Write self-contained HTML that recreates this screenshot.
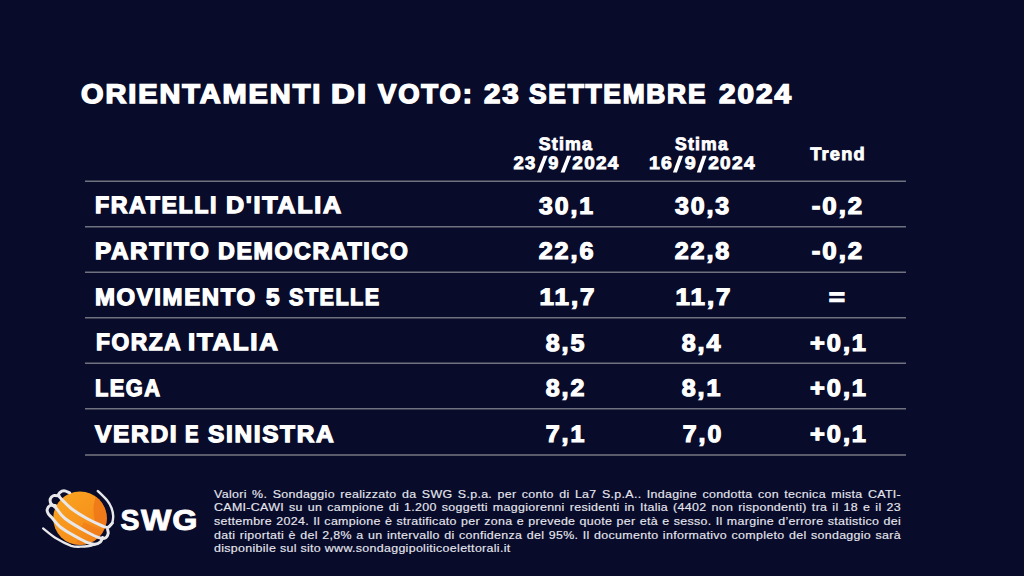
<!DOCTYPE html>
<html><head><meta charset="utf-8">
<style>
html,body{margin:0;padding:0;}
body{width:1024px;height:576px;background:#080b2a;position:relative;overflow:hidden;font-family:"Liberation Sans",sans-serif;color:#fff;}
.t{position:absolute;white-space:nowrap;line-height:1;font-weight:bold;transform-origin:0 0;text-rendering:geometricPrecision;}
.c{position:absolute;white-space:nowrap;line-height:1;font-weight:bold;text-align:center;width:300px;transform-origin:50% 0;text-rendering:geometricPrecision;}
.ln{position:absolute;left:85px;width:821px;height:2px;background:#64667a;}
.fl{position:absolute;left:214px;white-space:nowrap;font-size:11.5px;line-height:13.67px;letter-spacing:0.29px;transform-origin:0 0;transform:scaleX(1.08);color:#e6e6ee;-webkit-text-stroke:0.15px #e6e6ee;}
</style></head><body>
<div class="t" style="font-size:26.9px;-webkit-text-stroke:1.5px #fff;top:80.70px;letter-spacing:1.8px;left:80.51px;transform:scaleX(1.0756);">ORIENTAMENTI</div>
<div class="t" style="font-size:26.9px;-webkit-text-stroke:1.5px #fff;top:80.70px;letter-spacing:1.8px;left:331.23px;transform:scaleX(1.2202);">DI</div>
<div class="t" style="font-size:26.9px;-webkit-text-stroke:1.5px #fff;top:80.70px;letter-spacing:1.8px;left:378.09px;transform:scaleX(1.0208);">VOTO:</div>
<div class="t" style="font-size:26.9px;-webkit-text-stroke:1.5px #fff;top:80.70px;letter-spacing:1.8px;left:483.52px;transform:scaleX(1.0951);">23</div>
<div class="t" style="font-size:26.9px;-webkit-text-stroke:1.5px #fff;top:80.70px;letter-spacing:1.8px;left:529.29px;transform:scaleX(0.9790);">SETTEMBRE</div>
<div class="t" style="font-size:26.9px;-webkit-text-stroke:1.5px #fff;top:80.70px;letter-spacing:1.8px;left:719.38px;transform:scaleX(1.1048);">2024</div>
<div class="t" style="font-size:23.6px;-webkit-text-stroke:1.3px #fff;top:195.03px;letter-spacing:1.6px;left:94.80px;transform:scaleX(0.9833);">FRATELLI</div>
<div class="t" style="font-size:23.6px;-webkit-text-stroke:1.3px #fff;top:195.03px;letter-spacing:1.6px;left:226.11px;transform:scaleX(1.0640);">D'ITALIA</div>
<div class="t" style="font-size:23.6px;-webkit-text-stroke:1.3px #fff;top:240.99px;letter-spacing:1.6px;left:95.16px;transform:scaleX(1.0262);">PARTITO</div>
<div class="t" style="font-size:23.6px;-webkit-text-stroke:1.3px #fff;top:240.99px;letter-spacing:1.6px;left:218.28px;transform:scaleX(0.9863);">DEMOCRATICO</div>
<div class="t" style="font-size:23.6px;-webkit-text-stroke:1.3px #fff;top:286.53px;letter-spacing:1.6px;left:94.71px;transform:scaleX(1.0139);">MOVIMENTO</div>
<div class="t" style="font-size:23.6px;-webkit-text-stroke:1.3px #fff;top:286.53px;letter-spacing:1.6px;left:265.54px;transform:scaleX(1.0322);">5</div>
<div class="t" style="font-size:23.6px;-webkit-text-stroke:1.3px #fff;top:286.53px;letter-spacing:1.6px;left:288.50px;transform:scaleX(0.9162);">STELLE</div>
<div class="t" style="font-size:23.6px;-webkit-text-stroke:1.3px #fff;top:332.19px;letter-spacing:1.6px;left:95.60px;transform:scaleX(0.9648);">FORZA</div>
<div class="t" style="font-size:23.6px;-webkit-text-stroke:1.3px #fff;top:332.19px;letter-spacing:1.6px;left:187.77px;transform:scaleX(1.0927);">ITALIA</div>
<div class="t" style="font-size:23.6px;-webkit-text-stroke:1.3px #fff;top:378.14px;letter-spacing:1.6px;left:94.75px;transform:scaleX(0.9228);">LEGA</div>
<div class="t" style="font-size:23.6px;-webkit-text-stroke:1.3px #fff;top:424.38px;letter-spacing:1.6px;left:94.89px;transform:scaleX(1.0392);">VERDI</div>
<div class="t" style="font-size:23.6px;-webkit-text-stroke:1.3px #fff;top:424.38px;letter-spacing:1.6px;left:185.31px;transform:scaleX(0.8612);">E</div>
<div class="t" style="font-size:23.6px;-webkit-text-stroke:1.3px #fff;top:424.38px;letter-spacing:1.6px;left:208.43px;transform:scaleX(1.0353);">SINISTRA</div>
<div class="c" style="font-size:23.7px;-webkit-text-stroke:1.2px #fff;top:195.79px;letter-spacing:1.8px;left:416.89px;transform:scaleX(1.0472);">30,1</div>
<div class="c" style="font-size:23.7px;-webkit-text-stroke:1.2px #fff;top:195.79px;letter-spacing:1.8px;left:553.15px;transform:scaleX(1.0525);">30,3</div>
<div class="c" style="font-size:23.7px;-webkit-text-stroke:1.2px #fff;top:195.79px;letter-spacing:1.8px;left:688.43px;transform:scaleX(1.0912);">-0,2</div>
<div class="c" style="font-size:23.7px;-webkit-text-stroke:1.2px #fff;top:241.46px;letter-spacing:1.8px;left:417.02px;transform:scaleX(1.0640);">22,6</div>
<div class="c" style="font-size:23.7px;-webkit-text-stroke:1.2px #fff;top:241.46px;letter-spacing:1.8px;left:553.06px;transform:scaleX(1.0601);">22,8</div>
<div class="c" style="font-size:23.7px;-webkit-text-stroke:1.2px #fff;top:241.46px;letter-spacing:1.8px;left:688.43px;transform:scaleX(1.0912);">-0,2</div>
<div class="c" style="font-size:23.7px;-webkit-text-stroke:1.2px #fff;top:286.56px;letter-spacing:1.8px;left:417.54px;transform:scaleX(1.0940);">11,7</div>
<div class="c" style="font-size:23.7px;-webkit-text-stroke:1.2px #fff;top:286.56px;letter-spacing:1.8px;left:553.54px;transform:scaleX(1.0940);">11,7</div>
<div class="c" style="font-size:23.7px;-webkit-text-stroke:1.2px #fff;top:286.56px;letter-spacing:1.8px;left:688.21px;transform:scaleX(1.1734);">=</div>
<div class="c" style="font-size:23.7px;-webkit-text-stroke:1.2px #fff;top:333.10px;letter-spacing:1.8px;left:416.18px;transform:scaleX(1.0570);">8,5</div>
<div class="c" style="font-size:23.7px;-webkit-text-stroke:1.2px #fff;top:333.10px;letter-spacing:1.8px;left:552.48px;transform:scaleX(1.0570);">8,4</div>
<div class="c" style="font-size:23.7px;-webkit-text-stroke:1.2px #fff;top:333.10px;letter-spacing:1.8px;left:688.78px;transform:scaleX(1.0713);">+0,1</div>
<div class="c" style="font-size:23.7px;-webkit-text-stroke:1.2px #fff;top:378.38px;letter-spacing:1.8px;left:416.18px;transform:scaleX(1.0570);">8,2</div>
<div class="c" style="font-size:23.7px;-webkit-text-stroke:1.2px #fff;top:378.38px;letter-spacing:1.8px;left:552.48px;transform:scaleX(1.0570);">8,1</div>
<div class="c" style="font-size:23.7px;-webkit-text-stroke:1.2px #fff;top:378.38px;letter-spacing:1.8px;left:688.78px;transform:scaleX(1.0713);">+0,1</div>
<div class="c" style="font-size:23.7px;-webkit-text-stroke:1.2px #fff;top:424.38px;letter-spacing:1.8px;left:416.18px;transform:scaleX(1.0570);">7,1</div>
<div class="c" style="font-size:23.7px;-webkit-text-stroke:1.2px #fff;top:424.38px;letter-spacing:1.8px;left:553.44px;transform:scaleX(1.0508);">7,0</div>
<div class="c" style="font-size:23.7px;-webkit-text-stroke:1.2px #fff;top:424.38px;letter-spacing:1.8px;left:688.78px;transform:scaleX(1.0713);">+0,1</div>
<div class="c" style="font-size:18.0px;-webkit-text-stroke:0.85px #fff;top:135.31px;letter-spacing:1.2px;left:415.60px;transform:scaleX(0.9884);">Stima</div>
<div class="c" style="font-size:18.0px;-webkit-text-stroke:0.85px #fff;top:135.31px;letter-spacing:1.2px;left:551.77px;transform:scaleX(0.9772);">Stima</div>
<div class="c" style="font-size:18.0px;-webkit-text-stroke:0.85px #fff;top:144.83px;letter-spacing:1.2px;left:687.58px;transform:scaleX(1.0126);">Trend</div>
<div class="c" style="font-size:18.0px;-webkit-text-stroke:0.85px #fff;top:154.12px;letter-spacing:1.2px;left:375.05px;transform:scaleX(1.0286);">23</div>
<div class="c" style="font-size:18.0px;-webkit-text-stroke:0.85px #fff;top:154.12px;letter-spacing:1.2px;left:404.26px;transform:scaleX(1.0063);">9</div>
<div class="c" style="font-size:18.0px;-webkit-text-stroke:0.85px #fff;top:154.12px;letter-spacing:1.2px;left:446.21px;transform:scaleX(1.0548);">2024</div>
<div class="c" style="font-size:18.0px;-webkit-text-stroke:0.85px #fff;top:154.12px;letter-spacing:1.2px;left:510.92px;transform:scaleX(1.0775);">16</div>
<div class="c" style="font-size:18.0px;-webkit-text-stroke:0.85px #fff;top:154.12px;letter-spacing:1.2px;left:540.66px;transform:scaleX(1.0939);">9</div>
<div class="c" style="font-size:18.0px;-webkit-text-stroke:0.85px #fff;top:154.12px;letter-spacing:1.2px;left:582.12px;transform:scaleX(1.0599);">2024</div>
<div class="ln" style="top:180px;background:linear-gradient(#3c3e52 50%,#707282 50%)"></div>
<div class="ln" style="top:226px;background:linear-gradient(#707282 50%,#3c3e52 50%)"></div>
<div class="ln" style="top:271px;background:linear-gradient(#3c3e52 50%,#707282 50%)"></div>
<div class="ln" style="top:317px;background:linear-gradient(#707282 50%,#3c3e52 50%)"></div>
<div class="ln" style="top:362px;background:linear-gradient(#3c3e52 50%,#707282 50%)"></div>
<div class="ln" style="top:408px;background:linear-gradient(#707282 50%,#3c3e52 50%)"></div>
<div class="ln" style="top:454px;background:linear-gradient(#5a5c6c 50%,#5a5c6c 50%)"></div>
<svg style="position:absolute;left:0;top:0" width="1024" height="200" viewBox="0 0 1024 200">
<g fill="#fff">
<polygon points="537.0,172.4 541.0,172.4 547.6,155.8 543.6,155.8"/>
<polygon points="560.6,172.4 564.6,172.4 571.2,155.8 567.2,155.8"/>
<polygon points="672.9,172.4 676.9,172.4 683.0,155.8 679.0,155.8"/>
<polygon points="696.8,172.4 700.8,172.4 706.6,155.8 702.6,155.8"/>
</g>
</svg>

<div class="fl" style="top:487.50px;width:636.11px;text-align:justify;text-align-last:justify">Valori %. Sondaggio realizzato da SWG S.p.a. per conto di La7 S.p.A.. Indagine condotta con tecnica mista CATI-</div>
<div class="fl" style="top:501.17px;width:636.11px;text-align:justify;text-align-last:justify">CAMI-CAWI su un campione di 1.200 soggetti maggiorenni residenti in Italia (4402 non rispondenti) tra il 18 e il 23</div>
<div class="fl" style="top:514.84px;width:636.11px;text-align:justify;text-align-last:justify">settembre 2024. Il campione è stratificato per zona e prevede quote per età e sesso. Il margine d’errore statistico dei</div>
<div class="fl" style="top:528.51px;width:636.11px;text-align:justify;text-align-last:justify">dati riportati è del 2,8% a un intervallo di confidenza del 95%. Il documento informativo completo del sondaggio sarà</div>
<div class="fl" style="top:542.18px;width:636.11px;text-align:left">disponibile sul sito www.sondaggipoliticoelettorali.it</div>
<svg style="position:absolute;left:0;top:460px" width="220" height="116" viewBox="0 460 220 116">
<defs>
<linearGradient id="sg" x1="0.2" y1="0.15" x2="0.85" y2="0.9">
<stop offset="0" stop-color="#f9a01f"/>
<stop offset="0.55" stop-color="#f7931c"/>
<stop offset="1" stop-color="#f2841a"/>
</linearGradient>
<clipPath id="sc"><circle cx="80" cy="518.3" r="26.8"/></clipPath>
</defs>
<circle cx="80" cy="518.3" r="26.8" fill="url(#sg)"/>
<g clip-path="url(#sc)" fill="#ee7719">
<path d="M97,494 C93,503 92.5,512 95,521 C100,524 105,526 112,528 L112,490 Z" opacity="0.85"/>
<path d="M84,522 C92,526 100,530 110,533 L110,544 C100,541 90,536 80,530 Z" opacity="0.55"/>
<path d="M80,538 C88,542 96,545 110,547 L110,552 C95,552 86,548 76,542 Z" opacity="0.5"/>
</g>
<g fill="none" stroke="#e8e7ea" stroke-linecap="round" stroke-linejoin="round">
<path stroke-width="3.0" d="M69.7,492.8 C68.8,492.5 65.7,490.8 64.0,490.8 C62.4,490.8 60.7,491.8 59.8,492.6 C58.9,493.4 58.1,494.2 58.6,495.5 C59.1,496.8 60.4,498.0 62.5,500.2 C64.6,502.4 67.2,505.4 71.2,508.5 C75.3,511.6 81.7,515.6 86.9,518.5 C92.1,521.4 99.0,524.5 102.5,526.0 C106.0,527.5 106.4,527.8 108.0,527.3 C109.6,526.8 111.6,523.7 112.3,523.0"/>
<path stroke-width="2.4" d="M112.3,523.0 C112.5,521.8 113.3,518.5 113.2,516.0 C113.1,513.5 112.5,510.6 111.5,508.0 C110.5,505.4 109.5,503.3 107.2,500.5 C104.9,497.7 99.4,492.6 97.8,491.0"/>
<path stroke-width="3.0" d="M59.0,496.0 C58.1,495.9 55.0,495.1 53.5,495.6 C52.0,496.1 50.7,497.6 50.3,499.0 C49.9,500.4 50.2,502.3 51.2,503.8 C52.2,505.3 53.7,505.6 56.0,508.0 C58.3,510.4 59.9,514.5 65.0,518.5 C70.2,522.5 80.9,528.7 86.9,532.0 C92.9,535.3 97.8,537.4 101.0,538.3 C104.2,539.2 104.8,538.3 106.0,537.5 C107.2,536.7 107.9,534.8 108.2,533.5 C108.5,532.2 107.7,530.2 107.6,529.5"/>
<path stroke-width="3.0" d="M55.5,505.5 C54.6,505.5 51.4,504.8 50.0,505.5 C48.6,506.2 47.5,508.1 47.2,509.5 C46.9,510.9 47.5,512.5 48.3,513.8 C49.1,515.1 49.9,515.4 51.8,517.5 C53.7,519.6 56.3,523.5 59.5,526.3 C62.7,529.0 66.7,531.3 71.2,534.0 C75.8,536.7 83.0,540.6 86.9,542.3 C90.8,544.0 92.4,544.3 94.7,544.2 C97.0,544.1 99.2,542.9 100.5,541.8 C101.8,540.7 102.2,538.2 102.5,537.5"/>
<path stroke-width="2.3" d="M43.1,528.4 C45.2,530.0 50.9,535.1 55.6,538.0 C60.3,540.9 67.1,544.3 71.2,545.8 C75.4,547.2 77.6,546.7 80.6,546.7 C83.6,546.7 86.6,546.4 89.0,546.0 C91.4,545.6 94.0,544.6 95.0,544.3"/>
</g>
<g font-family="Liberation Sans" font-weight="bold" font-size="30" fill="#fff" stroke="#fff" stroke-width="0.9"><text x="120.4" y="529.8" textLength="19.0" lengthAdjust="spacingAndGlyphs">S</text><text x="141.0" y="529.8" textLength="30.4" lengthAdjust="spacingAndGlyphs">W</text><text x="172.3" y="529.8" textLength="25.2" lengthAdjust="spacingAndGlyphs">G</text></g>
</svg>
</body></html>
